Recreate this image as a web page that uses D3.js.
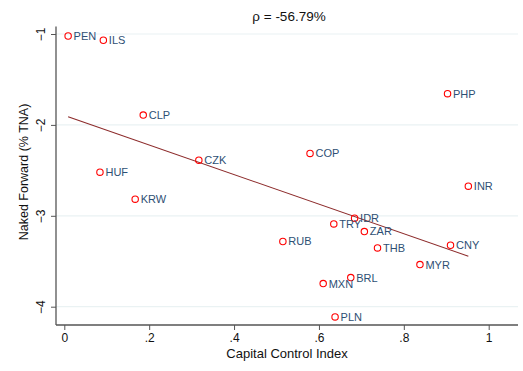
<!DOCTYPE html>
<html><head><meta charset="utf-8">
<script src="https://cdn.jsdelivr.net/npm/d3@7"></script>
<style>body{margin:0;background:#fff}svg{display:block}text{font-family:"Liberation Sans",Arial,Helvetica,sans-serif}</style>
</head><body><svg id="c" width="523" height="371"></svg>
<script>
const currencies = ["PEN","ILS","CLP","CZK","HUF","KRW","COP","PHP","INR","IDR","TRY","ZAR","RUB","THB","CNY","MYR","BRL","MXN","PLN"];
const capitalControl = [0.009,0.092,0.186,0.317,0.084,0.167,0.579,0.903,0.952,0.684,0.635,0.707,0.515,0.738,0.910,0.838,0.675,0.610,0.638];
const nakedForward = [-1.022,-1.069,-1.892,-2.388,-2.520,-2.817,-2.314,-1.657,-2.674,-3.026,-3.089,-3.173,-3.283,-3.353,-3.324,-3.537,-3.680,-3.746,-4.113];
const xTicks = [0,0.2,0.4,0.6,0.8,1];
const xTickLabels = ["0",".2",".4",".6",".8","1"];
const yTicks = [-1,-2,-3,-4];
const fitIntercept = -1.896, fitSlope = -1.626;
const title = "\u03c1 = -56.79%";

(function(){
const svg = d3.select("#c");
const x = d3.scaleLinear().domain([0,1]).range([64.3,488.7]);
const y = d3.scaleLinear().domain([-1,-4]).range([34,306.7]);
const pLeft = 56, pRight = 518, pTop = 26.5, pBottom = 325;

svg.append("g").selectAll("line").data(yTicks).join("line")
  .attr("x1",pLeft).attr("x2",pRight).attr("y1",d=>y(d)).attr("y2",d=>y(d))
  .attr("stroke","#eaf2f3").attr("stroke-width",1.2);

const xa = svg.append("g").attr("transform",`translate(0,${pBottom})`)
  .call(d3.axisBottom(x).tickValues(xTicks).tickFormat((d,i)=>xTickLabels[i]).tickSize(5).tickPadding(3));
xa.select(".domain").attr("d",`M${pLeft},0H${pRight}`);
const ya = svg.append("g").attr("transform",`translate(${pLeft},0)`)
  .call(d3.axisLeft(y).tickValues(yTicks).tickFormat(d3.format("d")).tickSize(5).tickPadding(3));
ya.select(".domain").attr("d",`M0,${pTop}V${pBottom}`);
svg.selectAll(".domain").attr("stroke","#555").attr("stroke-width",1.3);
svg.selectAll(".tick line").attr("stroke","#555");
svg.selectAll(".tick text").attr("font-size",12).attr("fill","#111")
  .attr("font-family","'Liberation Sans',Arial,sans-serif");
ya.selectAll(".tick text").attr("x",0).attr("y",0).attr("dy","0.35em").attr("text-anchor","middle")
  .attr("transform","translate(-15,0) rotate(-90)");

const xmin = d3.min(capitalControl), xmax = d3.max(capitalControl);
svg.append("line").attr("x1",x(xmin)).attr("y1",y(fitIntercept+fitSlope*xmin))
  .attr("x2",x(xmax)).attr("y2",y(fitIntercept+fitSlope*xmax))
  .attr("stroke","#8c2a2a").attr("stroke-width",1.1);

const data = currencies.map((c,i)=>({c,x:capitalControl[i],y:nakedForward[i]}));
svg.append("g").selectAll("circle").data(data).join("circle")
  .attr("cx",d=>x(d.x)).attr("cy",d=>y(d.y)).attr("r",3.2)
  .attr("fill","none").attr("stroke","#ff0000").attr("stroke-width",1.1);
svg.append("g").selectAll("text").data(data).join("text")
  .attr("x",d=>x(d.x)+5.5).attr("y",d=>y(d.y)).attr("dy","0.36em")
  .attr("font-size",11).attr("fill","#2e4f74").text(d=>d.c);

svg.append("text").attr("x",289).attr("y",21).attr("text-anchor","middle")
  .attr("font-size",13.5).attr("fill","#111").text(title);
svg.append("text").attr("x",287).attr("y",358).attr("text-anchor","middle")
  .attr("font-size",13).attr("fill","#111").text("Capital Control Index");
svg.append("text").attr("transform","translate(28,172) rotate(-90)").attr("text-anchor","middle")
  .attr("font-size",12.5).attr("fill","#111").text("Naked Forward (% TNA)");
})();
</script></body></html>
